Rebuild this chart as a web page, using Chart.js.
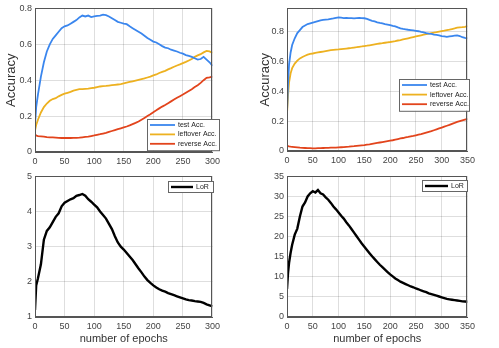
<!DOCTYPE html>
<html>
<head>
<meta charset="utf-8">
<script src="https://cdn.jsdelivr.net/npm/chart.js@4.4.1/dist/chart.umd.min.js"></script>
<style>
  html, body { margin: 0; padding: 0; background: #fff; }
  #wrap { position: relative; width: 499px; height: 348px; overflow: hidden; }
  canvas { position: absolute; }
</style>
</head>
<body>
<div id="wrap">
  <canvas id="accA" width="224" height="170" style="left:0;top:0"></canvas>
  <canvas id="accB" width="229" height="170" style="left:250px;top:0"></canvas>
  <canvas id="lorA" width="224" height="180" style="left:0;top:168px"></canvas>
  <canvas id="lorB" width="229" height="180" style="left:250px;top:168px"></canvas>
</div>
<script>
// ---- data ----
// left column: 300 epochs
const epochsA = [0, 2, 5, 10, 15, 20, 25, 30, 35, 40, 45, 50, 55, 60, 65, 70, 75, 80, 85, 90, 95, 100,
  105, 110, 115, 120, 125, 130, 135, 140, 145, 150, 155, 160, 165, 170, 175, 180, 185, 190, 195, 200,
  205, 210, 215, 220, 225, 230, 235, 240, 245, 250, 255, 260, 265, 270, 275, 280, 285, 290, 295, 300];
const testAccA = [0.15, 0.25, 0.32, 0.42, 0.50, 0.56, 0.60, 0.63, 0.65, 0.67, 0.69, 0.70, 0.705, 0.715, 0.725, 0.735, 0.75, 0.76, 0.755, 0.76, 0.752, 0.755,
  0.758, 0.76, 0.765, 0.762, 0.755, 0.745, 0.735, 0.725, 0.72, 0.715, 0.712, 0.70, 0.69, 0.68, 0.67, 0.66, 0.648, 0.635, 0.625, 0.615,
  0.61, 0.60, 0.59, 0.582, 0.578, 0.57, 0.565, 0.56, 0.553, 0.548, 0.54, 0.535, 0.53, 0.522, 0.515, 0.518, 0.53, 0.515, 0.50, 0.48];
const leftoverAccA = [0.12, 0.15, 0.18, 0.22, 0.25, 0.27, 0.285, 0.295, 0.30, 0.31, 0.318, 0.325, 0.33, 0.335, 0.342, 0.346, 0.35, 0.35, 0.352, 0.353, 0.356, 0.358,
  0.362, 0.365, 0.367, 0.368, 0.37, 0.372, 0.374, 0.376, 0.378, 0.382, 0.386, 0.39, 0.394, 0.398, 0.402, 0.406, 0.41, 0.415, 0.42, 0.427,
  0.432, 0.44, 0.446, 0.452, 0.46, 0.467, 0.475, 0.482, 0.488, 0.495, 0.502, 0.51, 0.518, 0.53, 0.538, 0.545, 0.555, 0.563, 0.56, 0.552];
const reverseAccA = [0.10, 0.092, 0.088, 0.087, 0.086, 0.083, 0.082, 0.081, 0.08, 0.079, 0.078, 0.078, 0.078, 0.078, 0.079, 0.079, 0.08, 0.082, 0.084, 0.086, 0.089, 0.092,
  0.096, 0.099, 0.103, 0.107, 0.112, 0.117, 0.122, 0.127, 0.132, 0.137, 0.142, 0.148, 0.155, 0.162, 0.17, 0.18, 0.19, 0.2, 0.21, 0.222,
  0.232, 0.243, 0.253, 0.262, 0.272, 0.282, 0.292, 0.302, 0.311, 0.32, 0.33, 0.34, 0.35, 0.362, 0.372, 0.385, 0.4, 0.413, 0.416, 0.42];
const lorA = [1.2, 1.9, 2.1, 2.5, 3.2, 3.45, 3.55, 3.7, 3.85, 3.95, 4.15, 4.25, 4.3, 4.35, 4.38, 4.45, 4.47, 4.5, 4.45, 4.35, 4.28, 4.2,
  4.12, 4.0, 3.9, 3.8, 3.65, 3.5, 3.3, 3.12, 3.0, 2.92, 2.82, 2.72, 2.62, 2.5, 2.38, 2.27, 2.15, 2.05, 1.97, 1.9,
  1.84, 1.79, 1.75, 1.72, 1.68, 1.65, 1.62, 1.59, 1.56, 1.53, 1.5, 1.48, 1.47, 1.45, 1.44, 1.43, 1.4, 1.36, 1.33, 1.3];

// right column: 350 epochs
const epochsB = [0, 2, 4, 7, 10, 15, 20, 25, 30, 35, 40, 45, 50, 55, 60, 65, 70, 75, 80, 85, 90, 95, 100,
  105, 110, 115, 120, 125, 130, 135, 140, 145, 150, 155, 160, 165, 170, 175, 180, 185, 190, 195, 200,
  205, 210, 215, 220, 225, 230, 235, 240, 245, 250, 255, 260, 265, 270, 275, 280, 285, 290, 295, 300,
  305, 310, 315, 320, 325, 330, 335, 340, 345, 350];
const testAccB = [0.26, 0.45, 0.58, 0.66, 0.71, 0.755, 0.79, 0.81, 0.83, 0.84, 0.85, 0.855, 0.86, 0.865, 0.87, 0.875, 0.878, 0.88, 0.882, 0.885, 0.888, 0.892, 0.895,
  0.893, 0.89, 0.892, 0.89, 0.89, 0.888, 0.89, 0.892, 0.89, 0.889, 0.885, 0.878, 0.872, 0.868, 0.862, 0.858, 0.855, 0.85, 0.847, 0.843,
  0.838, 0.835, 0.828, 0.822, 0.818, 0.815, 0.812, 0.81, 0.808, 0.805, 0.802, 0.798, 0.795, 0.79, 0.786, 0.784, 0.78, 0.778, 0.775, 0.77,
  0.768, 0.765, 0.768, 0.77, 0.772, 0.774, 0.77, 0.762, 0.758, 0.755];
const leftoverAccB = [0.25, 0.37, 0.46, 0.52, 0.555, 0.585, 0.605, 0.62, 0.63, 0.638, 0.645, 0.65, 0.653, 0.657, 0.66, 0.663, 0.666, 0.669, 0.672, 0.675, 0.677, 0.679, 0.68,
  0.682, 0.684, 0.686, 0.688, 0.69, 0.693, 0.695, 0.698, 0.7, 0.703, 0.705, 0.708, 0.711, 0.714, 0.717, 0.72, 0.722, 0.725, 0.728, 0.73,
  0.733, 0.736, 0.74, 0.743, 0.747, 0.751, 0.755, 0.759, 0.763, 0.767, 0.771, 0.775, 0.779, 0.783, 0.786, 0.79, 0.793, 0.796, 0.8, 0.803,
  0.806, 0.81, 0.813, 0.817, 0.821, 0.826, 0.828, 0.829, 0.832, 0.836];
const reverseAccB = [0.035, 0.033, 0.031, 0.029, 0.028, 0.026, 0.024, 0.022, 0.021, 0.02, 0.019, 0.019, 0.018, 0.018, 0.019, 0.019, 0.02, 0.021, 0.021, 0.022, 0.023, 0.023, 0.024,
  0.025, 0.026, 0.028, 0.029, 0.031, 0.032, 0.034, 0.036, 0.038, 0.04, 0.043, 0.045, 0.048, 0.051, 0.054, 0.057, 0.06, 0.063, 0.066, 0.069,
  0.072, 0.076, 0.08, 0.084, 0.087, 0.091, 0.094, 0.098, 0.101, 0.105, 0.109, 0.113, 0.118, 0.123, 0.128, 0.133, 0.139, 0.145, 0.151, 0.157,
  0.163, 0.169, 0.175, 0.182, 0.188, 0.195, 0.2, 0.205, 0.21, 0.215];
const lorB = [7, 11, 13.5, 16, 18, 20.5, 22, 25, 27.5, 28.5, 30, 30.8, 31.3, 31, 31.6, 30.8, 30.5, 29.8, 29.2, 28.4, 27.5, 26.8, 26,
  25.2, 24.5, 23.6, 22.8, 21.9, 21, 20.1, 19.2, 18.3, 17.5, 16.7, 15.9, 15.1, 14.4, 13.7, 13, 12.4, 11.8, 11.2, 10.6,
  10.1, 9.6, 9.2, 8.8, 8.5, 8.2, 7.9, 7.6, 7.4, 7.1, 6.9, 6.6, 6.4, 6.2, 5.9, 5.7, 5.5, 5.3, 5.1, 4.9,
  4.7, 4.5, 4.4, 4.3, 4.2, 4.1, 4.0, 3.9, 3.85, 3.8];

const accLabels = ["test Acc.", "leftover Acc.", "reverse Acc."];
const lorLabel = "LoR";

const FONT = "'Liberation Sans', Arial, sans-serif";
const TICK_COLOR = "#444";
const GRID_COLOR = "rgba(0,0,0,0.13)";
const AXIS_COLOR = "#555";

function pairs(xs, ys) {
  return xs.map((x, i) => ({ x: x, y: ys[i] }));
}

// frame around the plot area, like a MATLAB axes box
const boxPlugin = {
  id: "box",
  afterDraw(chart) {
    const a = chart.chartArea;
    const ctx = chart.ctx;
    ctx.save();
    ctx.strokeStyle = AXIS_COLOR;
    ctx.lineWidth = 1;
    ctx.strokeRect(Math.round(a.left) + 0.5, Math.round(a.top) + 0.5,
      Math.round(a.right - a.left) - 1, Math.round(a.bottom - a.top) - 1);
    ctx.restore();
  }
};

// legend box drawn inside the axes
const boxLegend = {
  id: "boxLegend",
  afterDraw(chart, args, opts) {
    const ctx = chart.ctx;
    const sets = chart.data.datasets;
    const h = sets.length * opts.rowH + 3;
    ctx.save();
    ctx.fillStyle = "#fff";
    ctx.fillRect(opts.left, opts.top, opts.width, h);
    ctx.strokeStyle = "#666";
    ctx.lineWidth = 1;
    ctx.strokeRect(opts.left + 0.5, opts.top + 0.5, opts.width, h);
    ctx.font = "7px " + FONT;
    ctx.textBaseline = "middle";
    ctx.fillStyle = "#222";
    sets.forEach((ds, i) => {
      const y = opts.top + 6 + i * opts.rowH;
      ctx.strokeStyle = ds.borderColor;
      ctx.lineWidth = ds.borderWidth;
      ctx.beginPath();
      ctx.moveTo(opts.left + 3, y);
      ctx.lineTo(opts.left + 3 + opts.lineLen, y);
      ctx.stroke();
      ctx.fillText(ds.label, opts.left + 6 + opts.lineLen, y);
    });
    ctx.restore();
  }
};

function makeOptions(cfg) {
  return {
    responsive: false,
    animation: false,
    devicePixelRatio: 1,
    layout: { padding: { top: cfg.padTop, right: 3, left: 0, bottom: 0 } },
    elements: { point: { radius: 0 }, line: { tension: 0 } },
    plugins: {
      legend: { display: false },
      tooltip: { enabled: false },
      boxLegend: cfg.legend
    },
    scales: {
      x: {
        type: "linear",
        min: 0,
        max: cfg.xMax,
        afterFit(s) { s.height = cfg.xH; },
        ticks: { stepSize: 50, color: TICK_COLOR, font: { family: FONT, size: 9 }, padding: 4, maxRotation: 0 },
        grid: { color: GRID_COLOR, drawTicks: false },
        border: { color: AXIS_COLOR },
        title: {
          display: !!cfg.xTitle,
          text: cfg.xTitle || "",
          color: "#333",
          font: { family: FONT, size: 11 },
          padding: { top: 0, bottom: 2 }
        }
      },
      y: {
        min: cfg.yMin,
        max: cfg.yMax,
        afterFit(s) { s.width = cfg.yW; },
        ticks: { stepSize: cfg.yStep, includeBounds: false, color: TICK_COLOR, font: { family: FONT, size: 9 }, padding: 3 },
        grid: { color: GRID_COLOR, drawTicks: false },
        border: { color: AXIS_COLOR },
        title: {
          display: !!cfg.yTitle,
          text: cfg.yTitle || "",
          color: "#333",
          font: { family: FONT, size: 13 },
          padding: { top: cfg.yTitlePad || 0, bottom: 0 }
        }
      }
    }
  };
}

function accDatasets(test, leftover, reverse, xs) {
  return [
    { label: accLabels[0], data: pairs(xs, test), borderColor: "#3a86ee", borderWidth: 1.8 },
    { label: accLabels[1], data: pairs(xs, leftover), borderColor: "#edb120", borderWidth: 1.8 },
    { label: accLabels[2], data: pairs(xs, reverse), borderColor: "#e2441c", borderWidth: 1.8 }
  ];
}

new Chart(document.getElementById("accA"), {
  type: "line",
  data: { datasets: accDatasets(testAccA, leftoverAccA, reverseAccA, epochsA) },
  options: makeOptions({ padTop: 6, xMax: 300, xH: 18, yMin: 0, yMax: 0.8, yStep: 0.2, yW: 35,
    yTitle: "Accuracy", yTitlePad: 4,
    legend: { left: 147, top: 119, width: 72, rowH: 9.4, lineLen: 25 } }),
  plugins: [boxPlugin, boxLegend]
});

new Chart(document.getElementById("accB"), {
  type: "line",
  data: { datasets: accDatasets(testAccB, leftoverAccB, reverseAccB, epochsB) },
  options: makeOptions({ padTop: 6, xMax: 350, xH: 19, yMin: 0, yMax: 0.955, yStep: 0.2, yW: 37,
    yTitle: "Accuracy", yTitlePad: 8,
    legend: { left: 149, top: 79, width: 70, rowH: 9.6, lineLen: 25 } }),
  plugins: [boxPlugin, boxLegend]
});

new Chart(document.getElementById("lorA"), {
  type: "line",
  data: { datasets: [{ label: lorLabel, data: pairs(epochsA, lorA), borderColor: "#000", borderWidth: 2.4 }] },
  options: makeOptions({ padTop: 5, xMax: 300, xH: 31, yMin: 1, yMax: 5, yStep: 1, yW: 35,
    xTitle: "number of epochs",
    legend: { left: 168, top: 13, width: 45, rowH: 8, lineLen: 22 } }),
  plugins: [boxPlugin, boxLegend]
});

new Chart(document.getElementById("lorB"), {
  type: "line",
  data: { datasets: [{ label: lorLabel, data: pairs(epochsB, lorB), borderColor: "#000", borderWidth: 2.4 }] },
  options: makeOptions({ padTop: 5, xMax: 350, xH: 31, yMin: 0, yMax: 35, yStep: 5, yW: 37,
    xTitle: "number of epochs",
    legend: { left: 172, top: 12, width: 45, rowH: 8, lineLen: 23 } }),
  plugins: [boxPlugin, boxLegend]
});
</script>
</body>
</html>
